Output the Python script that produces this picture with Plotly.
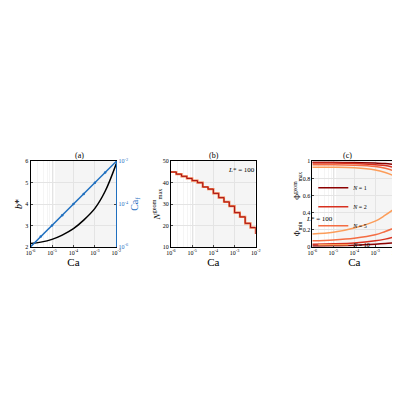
import plotly.graph_objects as go

ca = [1e-6, 3e-6, 1e-5, 3e-5, 1e-4, 3e-4, 1e-3, 3e-3, 1e-2]
b_star = [2.15, 2.22, 2.35, 2.55, 2.85, 3.25, 3.8, 4.6, 5.9]
ca_f = [1e-6, 3e-6, 1e-5, 3e-5, 1e-4, 3e-4, 1e-3, 3e-3, 1e-2]

ca_n = [10**(-6 + 0.25*i) for i in range(17)]
n_max = [45, 44, 43, 42, 41, 40, 38, 37, 35, 33, 31, 29, 26, 24, 21, 19, 16]

ca_c = [1e-6, 1e-5, 1e-4, 1e-3, 3e-3, 1e-2]
phi_max = {1: [0.99, 0.99, 0.985, 0.98, 0.975, 0.96],
           2: [0.98, 0.98, 0.975, 0.96, 0.95, 0.92],
           5: [0.96, 0.96, 0.955, 0.94, 0.92, 0.88],
           10: [0.93, 0.93, 0.925, 0.9, 0.87, 0.82]}
phi_min = {1: [0.01, 0.012, 0.018, 0.03, 0.038, 0.05],
           2: [0.03, 0.035, 0.045, 0.07, 0.09, 0.12],
           5: [0.07, 0.08, 0.1, 0.14, 0.18, 0.23],
           10: [0.15, 0.17, 0.22, 0.3, 0.37, 0.46]}
colors = {1: "#8b0000", 2: "#d7301f", 5: "#f46d43", 10: "#fc9d5a"}

FONT = "Liberation Serif"
tv = [1e-6, 1e-5, 1e-4, 1e-3, 1e-2]
tt = ["10<sup>-6</sup>", "10<sup>-5</sup>", "10<sup>-4</sup>", "10<sup>-3</sup>", "10<sup>-2</sup>"]

fig = go.Figure()
fig.add_trace(go.Scatter(x=ca, y=b_star, mode="lines", line=dict(color="black", width=1.5, shape="spline"),
                         xaxis="x", yaxis="y", showlegend=False))
fig.add_trace(go.Scatter(x=ca, y=ca_f, mode="lines+markers", line=dict(color="#1f6fbf", width=1.5),
                         marker=dict(size=2.5, color="#1f6fbf"), xaxis="x", yaxis="y2", showlegend=False))
fig.add_trace(go.Scatter(x=ca_n, y=n_max, mode="lines", line=dict(color="#f4804d", width=2.2, shape="hv"),
                         xaxis="x2", yaxis="y3", showlegend=False))
fig.add_trace(go.Scatter(x=ca_n, y=n_max, mode="lines", line=dict(color="#a50f15", width=1, shape="hv"),
                         xaxis="x2", yaxis="y3", showlegend=False))
for n in [1, 2, 5, 10]:
    fig.add_trace(go.Scatter(x=ca_c, y=phi_max[n], mode="lines", line=dict(color=colors[n], width=1.5, shape="spline"),
                             xaxis="x3", yaxis="y4", name=f"<i>N</i> = {n}"))
    fig.add_trace(go.Scatter(x=ca_c, y=phi_min[n], mode="lines", line=dict(color=colors[n], width=1.5, shape="spline"),
                             xaxis="x3", yaxis="y4", showlegend=False))

W = 400
def dom(a, b):
    return [a / W, b / W]

ax = dict(type="log", range=[-6, -2], tickvals=tv, ticktext=tt, showgrid=True, gridcolor="#e4e4e4",
          minor=dict(showgrid=True, gridcolor="#f5f5f5", ticks=""), showline=True, linecolor="black", mirror=True,
          ticks="inside", ticklen=2, tickfont=dict(size=6, family=FONT),
          title=dict(text="Ca", font=dict(size=11, family=FONT), standoff=0))
yb = dict(showline=True, linecolor="black", ticks="inside", ticklen=2, tickfont=dict(size=6, family=FONT),
          showgrid=True, gridcolor="#e4e4e4")
ydom = [1 - 239 / W, 1 - 152 / W]

fig.update_layout(
    width=400, height=400, margin=dict(l=0, r=0, t=0, b=0),
    paper_bgcolor="white", plot_bgcolor="white", font=dict(family=FONT, color="black"),
    xaxis=dict(ax, domain=dom(18, 106), anchor="y"),
    yaxis=dict(yb, domain=ydom, range=[2, 6], dtick=1, anchor="x", mirror=False,
               title=dict(text="<i>b</i>*", font=dict(size=10), standoff=0)),
    yaxis2=dict(type="log", range=[-6, -2], overlaying="y", side="right", anchor="x",
                tickvals=[1e-6, 1e-4, 1e-2], ticktext=["10<sup>-6</sup>", "10<sup>-4</sup>", "10<sup>-2</sup>"],
                tickfont=dict(size=6, color="#1f6fbf"), showline=True, linecolor="#1f6fbf", ticks="inside", ticklen=2,
                showgrid=False, title=dict(text="Ca<sub>f</sub>", font=dict(size=10, color="#1f6fbf"), standoff=0)),
    xaxis2=dict(ax, domain=dom(162, 249), anchor="y3"),
    yaxis3=dict(yb, domain=ydom, range=[10, 50], dtick=10, anchor="x2", mirror=True,
                title=dict(text="<i>N</i><sup>geom</sup><sub>max</sub>", font=dict(size=9), standoff=0)),
    xaxis3=dict(ax, domain=dom(307, 393), anchor="y4"),
    yaxis4=dict(yb, domain=ydom, range=[0, 1], dtick=0.2, anchor="x3", mirror=True,
                title=dict(text="Φ<sub>min</sub>           Φ<sup>geom</sup><sub>max</sub>", font=dict(size=8), standoff=0)),
    legend=dict(x=0.77, y=0.59, xanchor="left", yanchor="top", bgcolor="rgba(255,255,255,0)",
                font=dict(size=6, family=FONT), tracegroupgap=0, itemwidth=30, borderwidth=0),
    annotations=[
        dict(text="(a)", x=62 / W, y=1 - 146 / W, xref="paper", yref="paper", showarrow=False, font=dict(size=8)),
        dict(text="(b)", x=206 / W, y=1 - 146 / W, xref="paper", yref="paper", showarrow=False, font=dict(size=8)),
        dict(text="(c)", x=350 / W, y=1 - 146 / W, xref="paper", yref="paper", showarrow=False, font=dict(size=8)),
        dict(text="<i>L</i>* = 100", x=234 / W, y=1 - 161 / W, xref="paper", yref="paper", showarrow=False, font=dict(size=7)),
        dict(text="<i>L</i>* = 100", x=330 / W, y=1 - 211 / W, xref="paper", yref="paper", showarrow=False, font=dict(size=7)),
    ],
)
fig.write_html("out.html")
